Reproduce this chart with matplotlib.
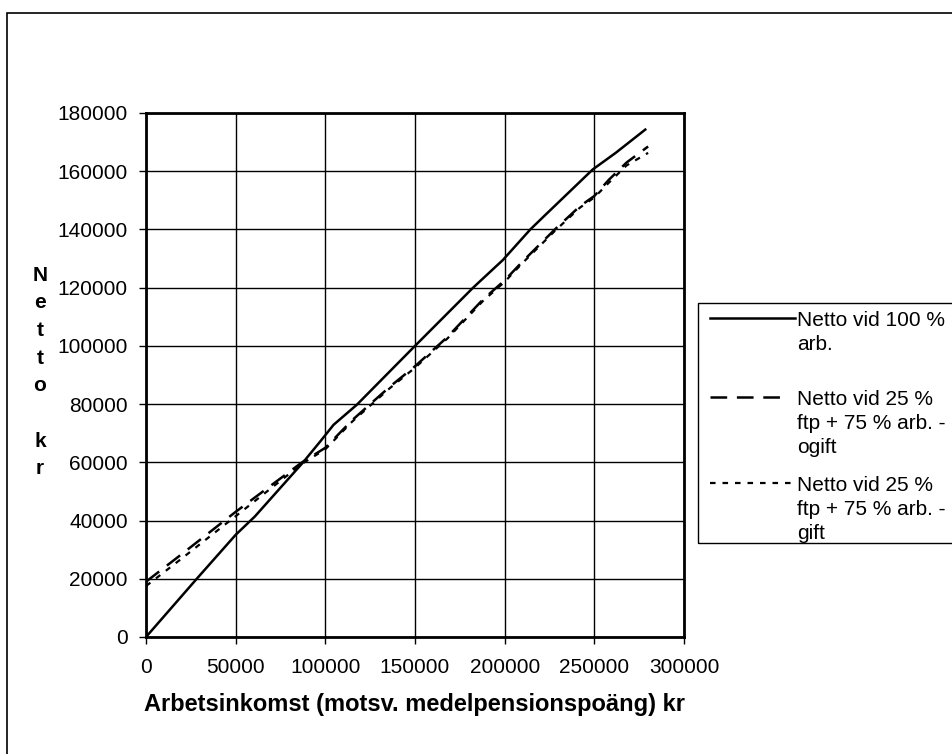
import matplotlib
matplotlib.use("Agg")
import matplotlib.pyplot as plt
from matplotlib.lines import Line2D
from matplotlib.patches import Rectangle

plt.rcParams['font.family'] = ['Liberation Sans', 'DejaVu Sans']
plt.rcParams['lines.scale_dashes'] = False

# netto vid 100 % arbete
x_full = [0, 28300, 50000, 60700, 87600, 97200, 104600, 117600, 150000,
          182400, 199000, 214300, 222700, 249100, 261900, 278400]
y_full = [0, 20000, 35100, 41400, 60000, 67200, 72900, 79800, 100000,
          120000, 129500, 140000, 145000, 160600, 166300, 174300]

# 25 % ftp + 75 % arb
x_ftp = [0, 20000, 50000, 87000, 100000, 115000, 136000, 150000, 168000,
         188000, 200000, 210000, 228000, 242000, 250000, 258000, 268000, 280000]
y_ogift = [19000, 28500, 43000, 60000, 65000, 74500, 86000, 93000, 103000,
           116000, 122500, 129000, 140000, 148000, 151500, 157000, 163000, 168500]
y_gift = [17500, 27000, 41500, 59500, 64500, 74000, 85500, 92500, 102500,
          115500, 122000, 128500, 139500, 147500, 151000, 156000, 162000, 166300]

labels = ["Netto vid 100 %\narb.",
          "Netto vid 25 %\nftp + 75 % arb. -\nogift",
          "Netto vid 25 %\nftp + 75 % arb. -\ngift"]

W, H = 953, 754
fig = plt.figure(figsize=(W / 100, H / 100), dpi=100)
ax = fig.add_axes([146 / W, 1 - 637 / H, 538 / W, 524 / H])

styles = [dict(color='black', lw=1.8, linestyle='-'),
          dict(color='black', lw=1.8, linestyle=(0, (12, 7))),
          dict(color='black', lw=1.6, linestyle=(0, (4, 5)))]

ax.plot(x_full, y_full, **styles[0])
ax.plot(x_ftp, y_ogift, **styles[1])
ax.plot(x_ftp, y_gift, **styles[2])

ax.set_xlim(0, 300000)
ax.set_ylim(0, 180000)
ax.set_xticks(range(0, 300001, 50000))
ax.set_yticks(range(0, 180001, 20000))
ax.grid(True, color='black', lw=1.0)
ax.set_axisbelow(True)
for s in ax.spines.values():
    s.set_linewidth(2.0)
ax.tick_params(direction='out', length=5, width=1, labelsize=15, pad=8)
ax.tick_params(axis='x', pad=10)

ax.set_xlabel("Arbetsinkomst (motsv. medelpensionspoäng) kr",
              fontsize=17, fontweight='bold', labelpad=12)
fig.text(40 / W, 1 - 372 / H, "N\ne\nt\nt\no\n\nk\nr", fontsize=15,
         fontweight='bold', ha='center', va='center', linespacing=1.58)

# outer frame
fig.add_artist(Rectangle((7 / W, -0.01), 1.0, 1 - 13 / H + 0.01,
                         transform=fig.transFigure, fill=False,
                         edgecolor='black', lw=1.2))

# legend box
fig.add_artist(Rectangle((698 / W, 1 - 543 / H), 0.5, (543 - 303) / H,
                         transform=fig.transFigure, fill=False,
                         edgecolor='black', lw=1.0))
handle_y = [318, 397, 483]
handle_end = [795, 782, 795]
for st, lab, hy, he in zip(styles, labels, handle_y, handle_end):
    fig.add_artist(Line2D([710 / W, he / W], [1 - hy / H, 1 - hy / H],
                          transform=fig.transFigure, **st))
    fig.text(797 / W, 1 - (hy - 7) / H, lab, fontsize=15, ha='left',
             va='top', linespacing=1.32)

fig.savefig("out.png", dpi=100)
